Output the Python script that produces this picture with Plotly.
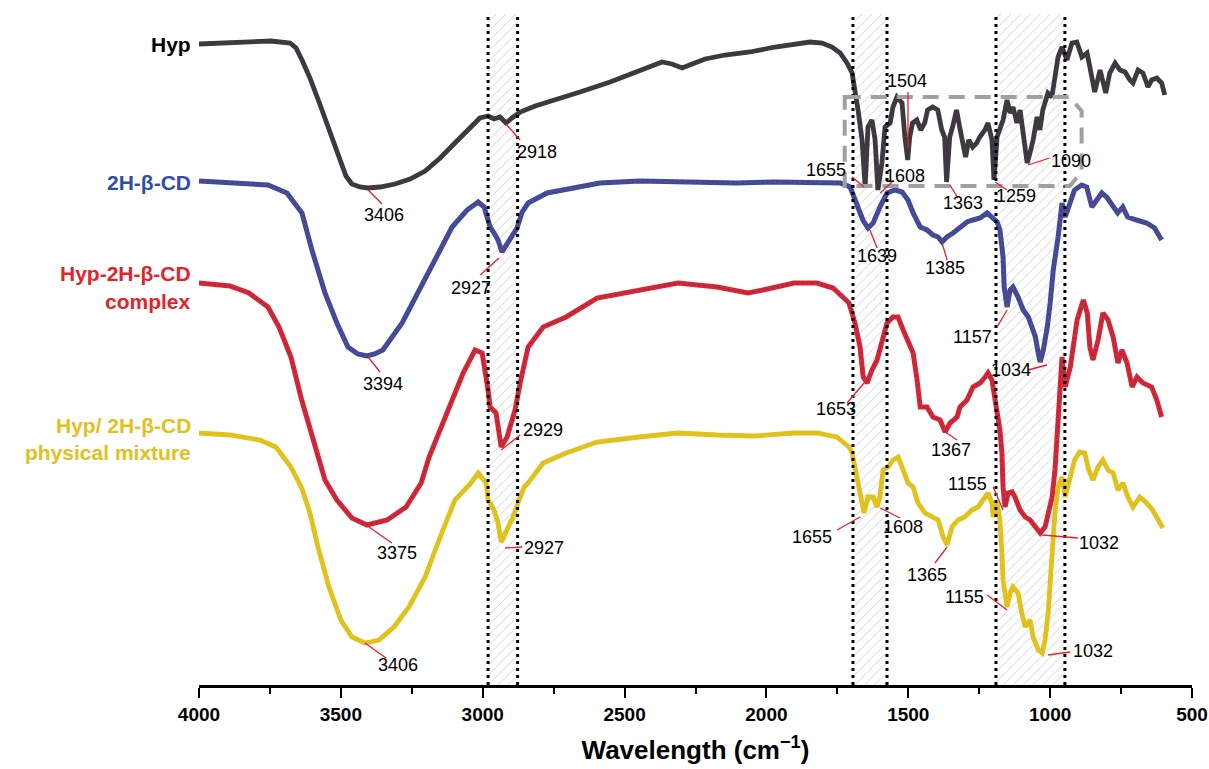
import plotly.graph_objects as go

# ---------------- data (wavenumber cm-1, transmittance a.u. with offsets) ----------------
hyp = [(4000,641),(3891,642),(3785,643),(3746,644),(3679,642),(3658,637),(3637,625),(3609,607),
       (3573,580),(3538,552),(3503,523),(3482,509),(3461,501),(3433,498),(3404,497),(3362,498),
       (3309,501),(3256,506),(3203,514),(3150,527),(3098,542),(3045,558),(3010,567),(2981,569),
       (2960,566),(2939,568),(2918,562),(2897,567),(2868,573),(2815,579),(2745,585),(2657,593),
       (2551,603),(2463,613),(2410,619),(2368,623),(2333,621),(2297,617),(2262,621),(2216,626),
       (2146,630),(2058,633),(1970,638),(1899,641),(1846,643),(1804,642),(1769,638),(1740,632),
       (1716,622),(1698,612),(1688,595),(1677,575),(1663,545),(1652,498),(1642,558),(1628,565),
       (1617,545),(1607,495),(1593,522),(1582,558),(1564,562),(1554,578),(1540,588),(1522,582),
       (1512,548),(1502,525),(1495,548),(1485,562),(1470,565),(1456,555),(1442,562),(1432,575),
       (1414,578),(1396,575),(1382,555),(1372,548),(1365,503),(1354,548),(1344,558),(1330,575),
       (1319,558),(1308,542),(1298,528),(1287,545),(1273,538),(1259,542),(1248,548),(1230,555),
       (1219,562),(1205,545),(1198,505),(1187,548),(1177,555),(1166,565),(1152,585),(1141,572),
       (1131,578),(1117,562),(1106,575),(1095,548),(1081,522),(1071,532),(1060,545),(1046,568),
       (1036,555),(1026,575),(1008,592),(994,588),(983,608),(972,628),(958,638),(941,625),
       (923,642),(906,643),(888,628),(870,632),(860,618),(843,593),(824,615),(804,592),(790,612),
       (771,622),(754,615),(736,613),(719,605),(708,602),(690,615),(673,612),(655,598),(642,605),
       (624,607),(607,602),(596,590)]

cd = [(4000,504),(3891,502),(3757,500),(3690,492),(3637,472),(3602,435),(3556,392),(3514,362),
      (3475,338),(3440,331),(3409,329),(3381,331),(3352,335),(3284,362),(3217,398),(3150,435),
      (3108,458),(3055,475),(3016,483),(2995,478),(2974,458),(2960,452),(2946,445),(2932,433),
      (2918,440),(2900,449),(2879,457),(2861,473),(2840,482),(2773,492),(2678,497),(2587,502),
      (2446,504),(2312,503),(2107,502),(1970,503),(1833,503),(1740,502),(1705,498),(1681,482),
      (1660,465),(1642,457),(1624,462),(1600,478),(1575,492),(1547,495),(1522,493),(1501,485),
      (1483,472),(1458,458),(1434,455),(1413,450),(1395,448),(1381,443),(1364,448),(1342,452),
      (1318,458),(1293,463),(1272,465),(1247,467),(1222,472),(1205,468),(1187,463),(1177,455),
      (1166,428),(1162,398),(1152,378),(1141,395),(1131,398),(1113,388),(1095,375),(1077,368),
      (1063,358),(1052,348),(1042,332),(1035,323),(1024,335),(1010,358),(1000,382),(989,415),
      (972,448),(958,482),(947,468),(929,485),(914,495),(889,500),(871,498),(853,478),(836,485),
      (818,492),(801,488),(778,478),(762,472),(744,478),(727,468),(695,465),(660,462),(632,457),
      (607,445)]

cplx = [(4000,402),(3891,399),(3824,392),(3757,378),(3718,358),(3676,328),(3638,285),(3595,242),
        (3556,205),(3514,185),(3461,167),(3408,160),(3337,165),(3270,178),(3217,202),(3189,228),
        (3122,275),(3069,312),(3027,335),(3002,332),(2981,295),(2974,278),(2953,272),(2935,238),
        (2914,248),(2886,275),(2868,302),(2840,338),(2787,358),(2706,368),(2597,387),(2449,395),
        (2312,402),(2174,398),(2065,392),(2012,395),(1903,402),(1822,402),(1765,397),(1709,382),
        (1688,362),(1670,338),(1659,308),(1645,302),(1628,315),(1610,325),(1593,345),(1575,362),
        (1554,368),(1536,368),(1518,355),(1501,345),(1483,332),(1469,305),(1458,278),(1434,278),
        (1413,268),(1388,265),(1370,253),(1353,262),(1328,268),(1318,278),(1293,285),(1272,298),
        (1247,302),(1229,308),(1219,312),(1205,305),(1198,292),(1187,278),(1177,255),(1170,232),
        (1166,198),(1159,178),(1148,192),(1134,193),(1124,188),(1106,175),(1088,168),(1071,165),
        (1053,158),(1035,152),(1018,158),(1007,172),(993,188),(983,215),(976,245),(965,305),
        (958,328),(947,298),(929,318),(905,365),(883,385),(869,372),(860,338),(849,325),(831,345),
        (814,372),(796,365),(778,348),(761,322),(747,335),(729,322),(711,298),(694,308),(673,302),
        (642,298),(624,285),(607,268)]

mix = [(4000,252),(3891,250),(3785,245),(3729,238),(3676,218),(3638,197),(3609,172),(3581,138),
       (3542,98),(3500,65),(3461,48),(3415,42),(3366,45),(3313,58),(3260,78),(3203,108),(3150,148),
       (3098,185),(3041,202),(3016,212),(2988,202),(2981,185),(2960,175),(2946,162),(2935,143),
       (2914,155),(2893,168),(2872,185),(2854,198),(2840,202),(2787,222),(2706,232),(2597,243),
       (2449,248),(2312,252),(2174,250),(2040,249),(1903,252),(1822,252),(1752,248),(1709,238),
       (1698,232),(1681,208),(1663,185),(1656,172),(1642,188),(1624,188),(1610,178),(1600,188),
       (1589,215),(1571,218),(1554,225),(1536,228),(1518,215),(1501,202),(1483,198),(1466,182),
       (1441,172),(1416,168),(1395,165),(1377,148),(1363,140),(1346,158),(1325,165),(1301,168),
       (1276,175),(1254,178),(1236,185),(1219,192),(1205,182),(1201,168),(1187,182),(1177,165),
       (1170,132),(1166,105),(1152,78),(1141,92),(1131,98),(1113,92),(1100,72),(1088,58),(1071,65),
       (1060,48),(1042,35),(1028,32),(1018,45),(1007,72),(993,132),(983,172),(972,198),(958,208),
       (947,188),(929,208),(914,225),(896,233),(878,232),(864,215),(849,205),(831,218),(814,225),
       (796,215),(778,212),(761,195),(743,202),(726,188),(708,178),(684,188),(660,182),(639,175),
       (621,165),(603,157)]

x_ticks = [4000, 3500, 3000, 2500, 2000, 1500, 1000, 500]
hatch_bands = [(2981, 2877), (1695, 1575), (1191, 948)]

# peak annotations: text, text position (wn, T), leader from (wn, T) to (wn, T)
peaks = [
    ("3406", 3348, 470, 3404, 495, 3355, 481),
    ("2918", 2809, 533, 2918, 561, 2868, 545),
    ("1504", 1504, 604, 1501, 593, 1501, 537),
    ("1655", 1790, 515, 1698, 508, 1656, 498),
    ("1608", 1511, 509, 1557, 503, 1599, 492),
    ("1363", 1307, 482, 1353, 500, 1325, 487),
    ("1259", 1120, 489, 1194, 503, 1152, 495),
    ("1090", 926, 524, 1078, 520, 1002, 527),
    ("2927", 3041, 397, 2943, 427, 3009, 410),
    ("3394", 3351, 301, 3404, 328, 3362, 313),
    ("1639", 1610, 429, 1635, 455, 1610, 437),
    ("1385", 1370, 417, 1381, 442, 1363, 425),
    ("1157", 1272, 348, 1152, 375, 1187, 358),
    ("1034", 1138, 315, 1011, 320, 1078, 315),
    ("1653", 1755, 276, 1656, 302, 1716, 282),
    ("1367", 1349, 235, 1370, 253, 1328, 245),
    ("2929", 2787, 255, 2935, 235, 2868, 250),
    ("3375", 3302, 132, 3401, 158, 3320, 142),
    ("2927", 2784, 137, 2921, 137, 2861, 138),
    ("3406", 3298, 20, 3415, 42, 3341, 27),
    ("1655", 1839, 148, 1751, 155, 1670, 168),
    ("1608", 1518, 158, 1599, 177, 1529, 167),
    ("1365", 1434, 110, 1363, 138, 1406, 122),
    ("1155", 1293, 201, 1201, 198, 1166, 175),
    ("1032", 827, 142, 1028, 150, 902, 147),
    ("1155", 1303, 88, 1222, 90, 1152, 75),
    ("1032", 849, 34, 1007, 30, 929, 33),
]

# series labels: text lines, colour, T position of each line
series_labels = [
    (["Hyp"], "#000000", [641]),
    (["2H-β-CD"], "#2F4EA6", [503]),
    (["Hyp-2H-β-CD", "complex"], "#E5222A", [412, 384]),
    (["Hyp/ 2H-β-CD", "physical mixture"], "#E1C11C", [260, 233]),
]
zoom_box = (1724, 889, 588, 499)  # wn left, wn right, T top, T bottom

BLUE = "#2F4EA6"
RED = "#E5222A"
YEL = "#E1C11C"
DARK = "#3E3840"
FONT = "Liberation Sans, Arial"

fig = go.Figure()

def xy(series):
    return [p[0] for p in series], [p[1] for p in series]

YTOP = 671
# hatched bands (under the spectra)
for a, b in hatch_bands:
    fig.add_trace(go.Scatter(
        x=[a, b, b, a, a], y=[0, 0, YTOP, YTOP, 0], mode="lines", fill="toself",
        line=dict(width=0), fillcolor="rgba(0,0,0,0)",
        fillpattern=dict(shape="/", fgcolor="#A8A8A8", bgcolor="rgba(0,0,0,0)", size=7, solidity=0.14),
        hoverinfo="skip"))

# spectra
x, y = xy(hyp)
fig.add_trace(go.Scatter(x=x, y=y, mode="lines", line=dict(color=DARK, width=4.8)))
x, y = xy(cd)
fig.add_trace(go.Scatter(x=x, y=y, mode="lines", line=dict(color=BLUE, width=5)))
fig.add_trace(go.Scatter(x=x, y=y, mode="lines", line=dict(color=RED, width=1.3, dash="2px,3px")))
x, y = xy(cplx)
fig.add_trace(go.Scatter(x=x, y=y, mode="lines", line=dict(color=RED, width=5)))
fig.add_trace(go.Scatter(x=x, y=y, mode="lines", line=dict(color=BLUE, width=1.3, dash="2px,3px")))
x, y = xy(mix)
fig.add_trace(go.Scatter(x=x, y=y, mode="lines", line=dict(color=YEL, width=4.8)))

shapes = []
for a, b in hatch_bands:
    for xv in (a, b):
        shapes.append(dict(type="line", xref="x", yref="y", x0=xv, x1=xv, y0=0, y1=YTOP,
                           line=dict(color="black", width=3, dash="3px,4px"), layer="above"))

# dashed zoom box (with bevelled right corners)
l, r, t, btm = zoom_box
bev_x, bev_y = 42, 14
path = (f"M {l},{t} L {r+bev_x},{t} L {r},{t-bev_y} L {r},{btm+bev_y} "
        f"L {r+bev_x},{btm} L {l},{btm} Z")
shapes.append(dict(type="path", xref="x", yref="y", path=path,
                   line=dict(color="#A0A0A0", width=4, dash="16px,10px"), layer="above"))

annotations = []
for txt, tx, ty, x0, y0, x1, y1 in peaks:
    shapes.append(dict(type="line", xref="x", yref="y", x0=x0, y0=y0, x1=x1, y1=y1,
                       line=dict(color="#E8202A", width=1.3), layer="above"))
    annotations.append(dict(x=tx, y=ty, xref="x", yref="y", text=txt, showarrow=False,
                            font=dict(family=FONT, size=18, color="black")))

for lines, col, ys in series_labels:
    for line_txt, yv in zip(lines, ys):
        annotations.append(dict(x=-0.006, y=yv, xref="paper", yref="y", text=line_txt,
                                showarrow=False, xanchor="right",
                                font=dict(family=FONT, size=21, color=col, weight="bold")))

fig.update_layout(
    width=1209, height=769,
    margin=dict(l=199, r=17, t=14, b=84, autoexpand=False),
    plot_bgcolor="white", paper_bgcolor="white",
    showlegend=False,
    shapes=shapes, annotations=annotations,
    xaxis=dict(range=[4000, 500], tickvals=x_ticks, ticks="outside", ticklen=10, tickwidth=2,
               tickcolor="black", showline=True, linecolor="black", linewidth=2.5,
               showgrid=False, zeroline=False, automargin=False,
               minor=dict(ticks="outside", ticklen=6, tickwidth=2, dtick=250, tickcolor="black",
                          showgrid=False),
               tickfont=dict(family=FONT, size=19, color="black", weight="bold"),
               title=dict(text="Wavelength (cm<sup>−1</sup>)", standoff=18,
                          font=dict(family=FONT, size=26, color="black", weight="bold"))),
    yaxis=dict(range=[0, YTOP], visible=False, showgrid=False, zeroline=False),
)

fig.write_html("out.html")
